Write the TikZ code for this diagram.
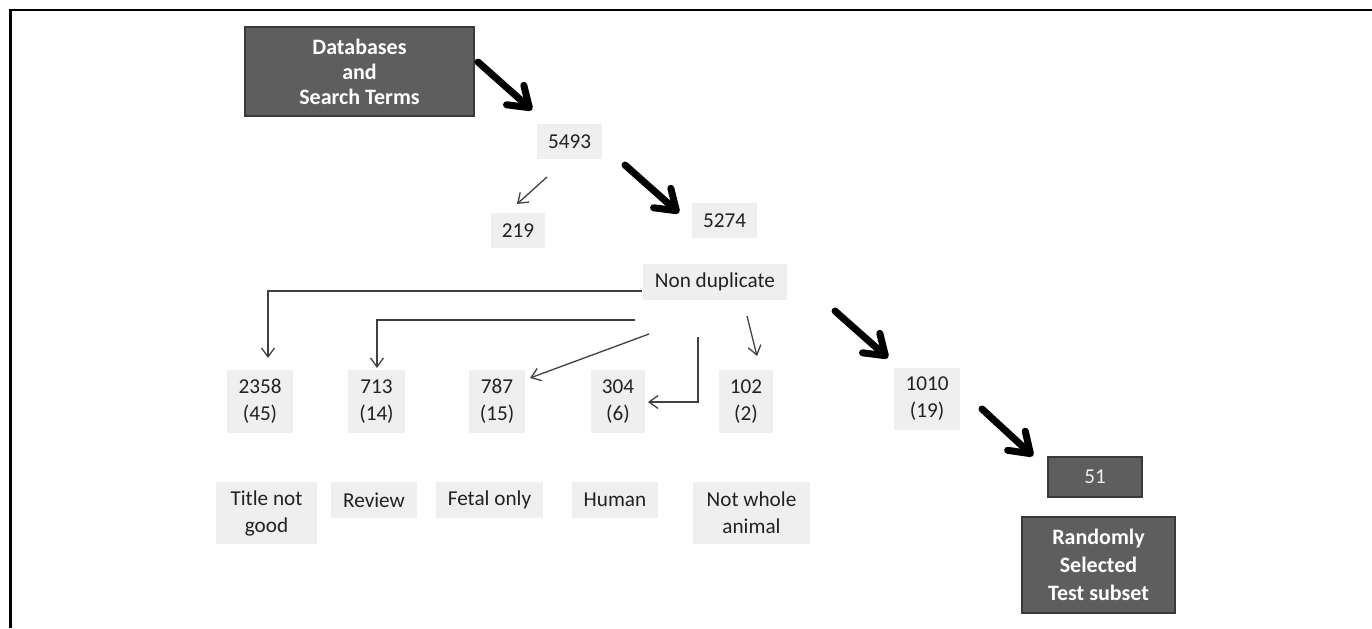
\documentclass[tikz,border=0pt]{standalone}
\usepackage{fontspec}
\setmainfont{Carlito}
\usetikzlibrary{arrows.meta}
\definecolor{lightbox}{HTML}{EFEFEF}
\definecolor{darkbox}{HTML}{5E5E5E}
\definecolor{darkedge}{HTML}{3A3A3A}
\definecolor{txt}{HTML}{222222}
\definecolor{thincol}{HTML}{404040}
\begin{document}
\begin{tikzpicture}[x=0.5pt,y=-0.5pt,
 lbox/.style={fill=lightbox, text=txt, inner sep=0pt, align=center, font=\fontsize{10.6}{13.5}\selectfont},
 dbox/.style={fill=darkbox, draw=darkedge, line width=0.6pt, text=white, inner sep=0pt, align=center},
 dfont/.style={font=\bfseries\fontsize{11}{12.5}\selectfont},
 bigarrow/.style={line width=3.5pt, line cap=round, line join=round, -{Straight Barb[length=9.5pt,width=13pt,round]}},
 thinarrow/.style={draw=thincol, line width=0.65pt, -{Straight Barb[length=4.5pt,width=6.5pt]}}
]
\useasboundingbox (0,0) rectangle (1372,628);
\fill[white] (0,0) rectangle (1372,628);
\draw[line width=1.2pt] (1372,10) -- (10.5,10) -- (10.5,628);

% nodes
\node[dbox, dfont, minimum width=114.5pt, minimum height=44.5pt] (db) at (359.5,71.5) {Databases\\and\\Search Terms};
\node[lbox, minimum width=32.5pt, minimum height=17.5pt] (n5493) at (569.5,141.5) {5493};
\node[lbox, minimum width=27pt, minimum height=17.5pt] (n219) at (518,230.5) {219};
\node[lbox, minimum width=32.5pt, minimum height=17.5pt] (n5274) at (724.5,220.5) {5274};
\node[lbox, minimum width=72pt, minimum height=18pt] (nondup) at (715,282) {Non duplicate};

\node[lbox, minimum width=33pt, minimum height=31.5pt] (n2358) at (260,401.5) {2358\\(45)};
\node[lbox, minimum width=28.5pt, minimum height=31.5pt] (n713) at (376.5,401.5) {713\\(14)};
\node[lbox, minimum width=28pt, minimum height=31.5pt] (n787) at (497,401.5) {787\\(15)};
\node[lbox, minimum width=27pt, minimum height=31.5pt] (n304) at (618,401.5) {304\\(6)};
\node[lbox, minimum width=27pt, minimum height=31.5pt] (n102) at (746,401.5) {102\\(2)};
\node[lbox, minimum width=33pt, minimum height=31pt] (n1010) at (927,399) {1010\\(19)};

\node[lbox, minimum width=50.5pt, minimum height=31pt] (title) at (266.5,513) {Title not\\good};
\node[lbox, minimum width=43pt, minimum height=18pt] (review) at (374,500) {Review};
\node[lbox, minimum width=53.5pt, minimum height=18pt] (fetal) at (489.5,500) {Fetal only};
\node[lbox, minimum width=43pt, minimum height=18pt] (human) at (615,500) {Human};
\node[lbox, minimum width=58.5pt, minimum height=31pt] (notwhole) at (751.5,513) {Not whole\\animal};

\node[dbox, text=lightbox, font=\fontsize{10.6}{13.5}\selectfont, minimum width=47pt, minimum height=20pt] (n51) at (1095,477) {51};
\node[dbox, font=\bfseries\fontsize{11}{14}\selectfont, minimum width=76.5pt, minimum height=48pt] (rand) at (1098.5,565) {Randomly\\Selected\\Test subset};

% thick arrow end points
\coordinate (a1s) at (478,62);   \coordinate (a1e) at (532,110);
\coordinate (a2s) at (625,165);  \coordinate (a2e) at (679,213);
\coordinate (a3s) at (835,311);  \coordinate (a3e) at (888,358);
\coordinate (a4s) at (982,409);  \coordinate (a4e) at (1033,456);
\draw[bigarrow] (a1s) -- (a1e);
\draw[bigarrow] (a2s) -- (a2e);
\draw[bigarrow] (a3s) -- (a3e);
\draw[bigarrow] (a4s) -- (a4e);

% thin connectors
\coordinate (t1s) at (547,177); \coordinate (t1e) at (517,204);
\draw[thinarrow] (t1s) -- (t1e);
\coordinate (b1s) at (642,291); \coordinate (b1e) at (268,358);
\draw[thinarrow] (b1s) -| (b1e);
\coordinate (b2s) at (635,320); \coordinate (b2e) at (377,368);
\draw[thinarrow] (b2s) -| (b2e);
\coordinate (b3s) at (649,334); \coordinate (b3e) at (530,378);
\draw[thinarrow] (b3s) -- (b3e);
\coordinate (b4s) at (698,337); \coordinate (b4e) at (648,402);
\draw[thinarrow] (b4s) |- (b4e);
\coordinate (b5s) at (747,316); \coordinate (b5e) at (757,356);
\draw[thinarrow] (b5s) -- (b5e);
\end{tikzpicture}
\end{document}
